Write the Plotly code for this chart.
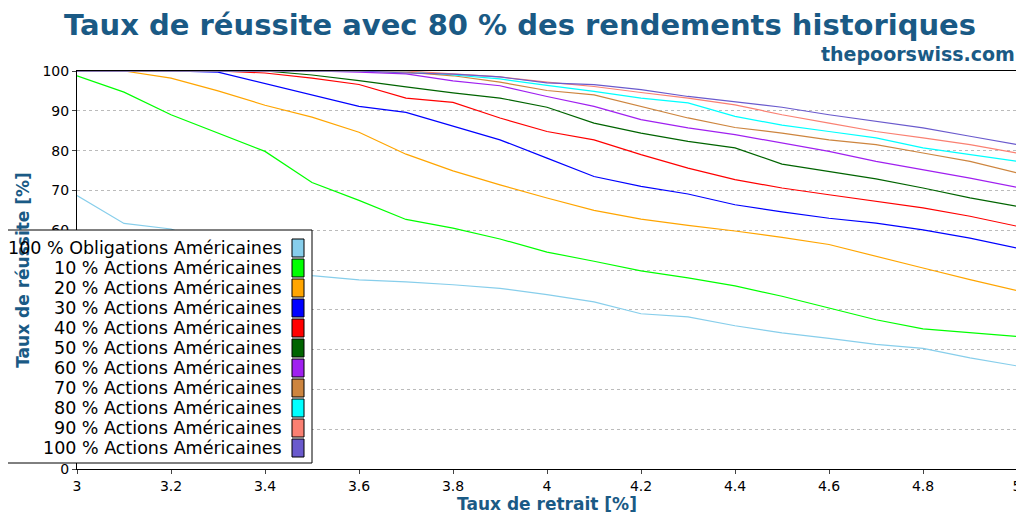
import plotly.graph_objects as go

# Taux de retrait [%]
withdrawal = [3.0, 3.1, 3.2, 3.3, 3.4, 3.5, 3.6, 3.7, 3.8, 3.9, 4.0,
              4.1, 4.2, 4.3, 4.4, 4.5, 4.6, 4.7, 4.8, 4.9, 5.0]

names = ["100 % Obligations Américaines", "10 % Actions Américaines", "20 % Actions Américaines",
         "30 % Actions Américaines", "40 % Actions Américaines", "50 % Actions Américaines",
         "60 % Actions Américaines", "70 % Actions Américaines", "80 % Actions Américaines",
         "90 % Actions Américaines", "100 % Actions Américaines"]
colors = ["skyblue", "lime", "orange", "blue", "red", "darkgreen",
          "#a020f0", "#cd853f", "cyan", "salmon", "slateblue"]

bonds = [68.7, 61.7, 60.3, 56, 52, 48.6, 47.5, 47, 46.3, 45.4, 43.8,
         42, 39, 38.2, 36, 34.2, 32.8, 31.3, 30.3, 27.9, 25.9]
s10 = [98.8, 94.7, 89, 84.5, 79.8, 72, 67.5, 62.7, 60.5, 57.8, 54.5,
       52.2, 49.8, 48, 46, 43.4, 40.4, 37.5, 35.2, 34.2, 33.3]
s20 = [100, 100, 98.2, 95, 91.4, 88.4, 84.6, 79.1, 74.9, 71.4, 68.1,
       65, 62.8, 61.2, 59.8, 58.2, 56.4, 53.4, 50.5, 47.6, 44.8]
s30 = [100, 100, 100, 99.7, 96.8, 94, 91.1, 89.6, 86.1, 82.7, 78.1,
       73.5, 71, 69.1, 66.4, 64.6, 63, 61.8, 60.1, 58, 55.5]
s40 = [100, 100, 100, 100, 99.5, 98.2, 96.6, 93.2, 92.1, 88.2, 84.8,
       82.7, 79, 75.6, 72.7, 70.6, 68.9, 67.3, 65.6, 63.5, 61]
s50 = [100, 100, 100, 100, 100, 99, 97.6, 96, 94.5, 93.2, 90.9,
       86.9, 84.4, 82.3, 80.7, 76.6, 74.8, 72.9, 70.6, 68.1, 66]
s60 = [100, 100, 100, 100, 100, 100, 99.7, 99.3, 97.5, 96.3, 93.6,
       91.1, 87.8, 85.7, 84, 81.9, 79.8, 77.3, 75.2, 73.1, 70.8]
s70 = [100, 100, 100, 100, 100, 100, 100, 99.7, 98.8, 97.2, 95.1,
       94, 91.1, 88.2, 85.8, 84.4, 82.7, 81.5, 79.4, 77.3, 74.4]
s80 = [100, 100, 100, 100, 100, 100, 100, 100, 99, 98, 96.4,
       94.9, 93.2, 92, 88.6, 86.4, 84.8, 83.2, 80.7, 79, 77.3]
s90 = [100, 100, 100, 100, 100, 100, 100, 100, 99.3, 98.5, 97.2,
       96.1, 94.6, 93.2, 91.5, 89, 86.9, 84.8, 83.2, 81.5, 79.4]
s100 = [100, 100, 100, 100, 100, 100, 100, 99.5, 99.2, 98.5, 97,
        96.6, 95.3, 93.6, 92.2, 90.9, 89, 87.4, 85.7, 83.6, 81.5]

series = [bonds, s10, s20, s30, s40, s50, s60, s70, s80, s90, s100]

title_blue = "#1a5a85"
fig = go.Figure()
for name, col, vals in zip(names, colors, series):
    fig.add_trace(go.Scatter(x=withdrawal, y=vals, name=name, mode="lines",
                             line=dict(color=col, width=1.2), showlegend=False))

# plot area in pixels: x 69..1009, y 63..461
def px(x):
    return (x - 69) / 940

def py(y):
    return (461 - y) / 398

shapes = [dict(type="rect", xref="paper", yref="paper", x0=px(-10), x1=px(304),
               y0=py(455), y1=py(222), fillcolor="white", line=dict(color="black", width=1))]
annotations = []
for i, (name, col) in enumerate(zip(names, colors)):
    cy = 240 + 20 * i
    shapes.append(dict(type="rect", xref="paper", yref="paper", x0=px(284), x1=px(296),
                       y0=py(cy + 9), y1=py(cy - 9), fillcolor=col,
                       line=dict(color="black", width=1)))
    annotations.append(dict(text=name, xref="paper", yref="paper", x=px(276), y=py(cy),
                            xanchor="right", yanchor="middle", showarrow=False,
                            font=dict(size=17.5, color="black", family="DejaVu Sans")))

annotations.append(dict(text="<b>thepoorswiss.com</b>", xref="paper", yref="paper",
                        x=px(1009), y=py(46), xanchor="right", yanchor="middle", showarrow=False,
                        font=dict(size=19, color=title_blue, family="DejaVu Sans")))

fig.update_layout(
    width=1024, height=512,
    margin=dict(l=69, r=15, t=63, b=51),
    plot_bgcolor="white", paper_bgcolor="white",
    font=dict(family="DejaVu Sans", size=14, color="black"),
    title=dict(text="<b>Taux de réussite avec 80 % des rendements historiques</b>",
               x=0.5, xanchor="center", y=0.968, yanchor="middle",
               font=dict(size=29, color=title_blue)),
    shapes=shapes, annotations=annotations,
)
fig.update_xaxes(range=[3, 5], dtick=0.2, showgrid=False, showline=True, linecolor="black",
                 mirror=True, ticks="outside", ticklen=4, zeroline=False, automargin=False,
                 title=dict(text="<b>Taux de retrait [%]</b>", standoff=4,
                            font=dict(size=17, color=title_blue)))
fig.update_yaxes(range=[0, 100], dtick=10, showgrid=True, gridcolor="#bbbbbb", griddash="dot",
                 showline=True, linecolor="black", mirror=True, ticks="outside", ticklen=4,
                 zeroline=False, automargin=False,
                 title=dict(text="<b>Taux de réussite [%]</b>", standoff=8,
                            font=dict(size=17, color=title_blue)))

fig.write_html("out.html")
